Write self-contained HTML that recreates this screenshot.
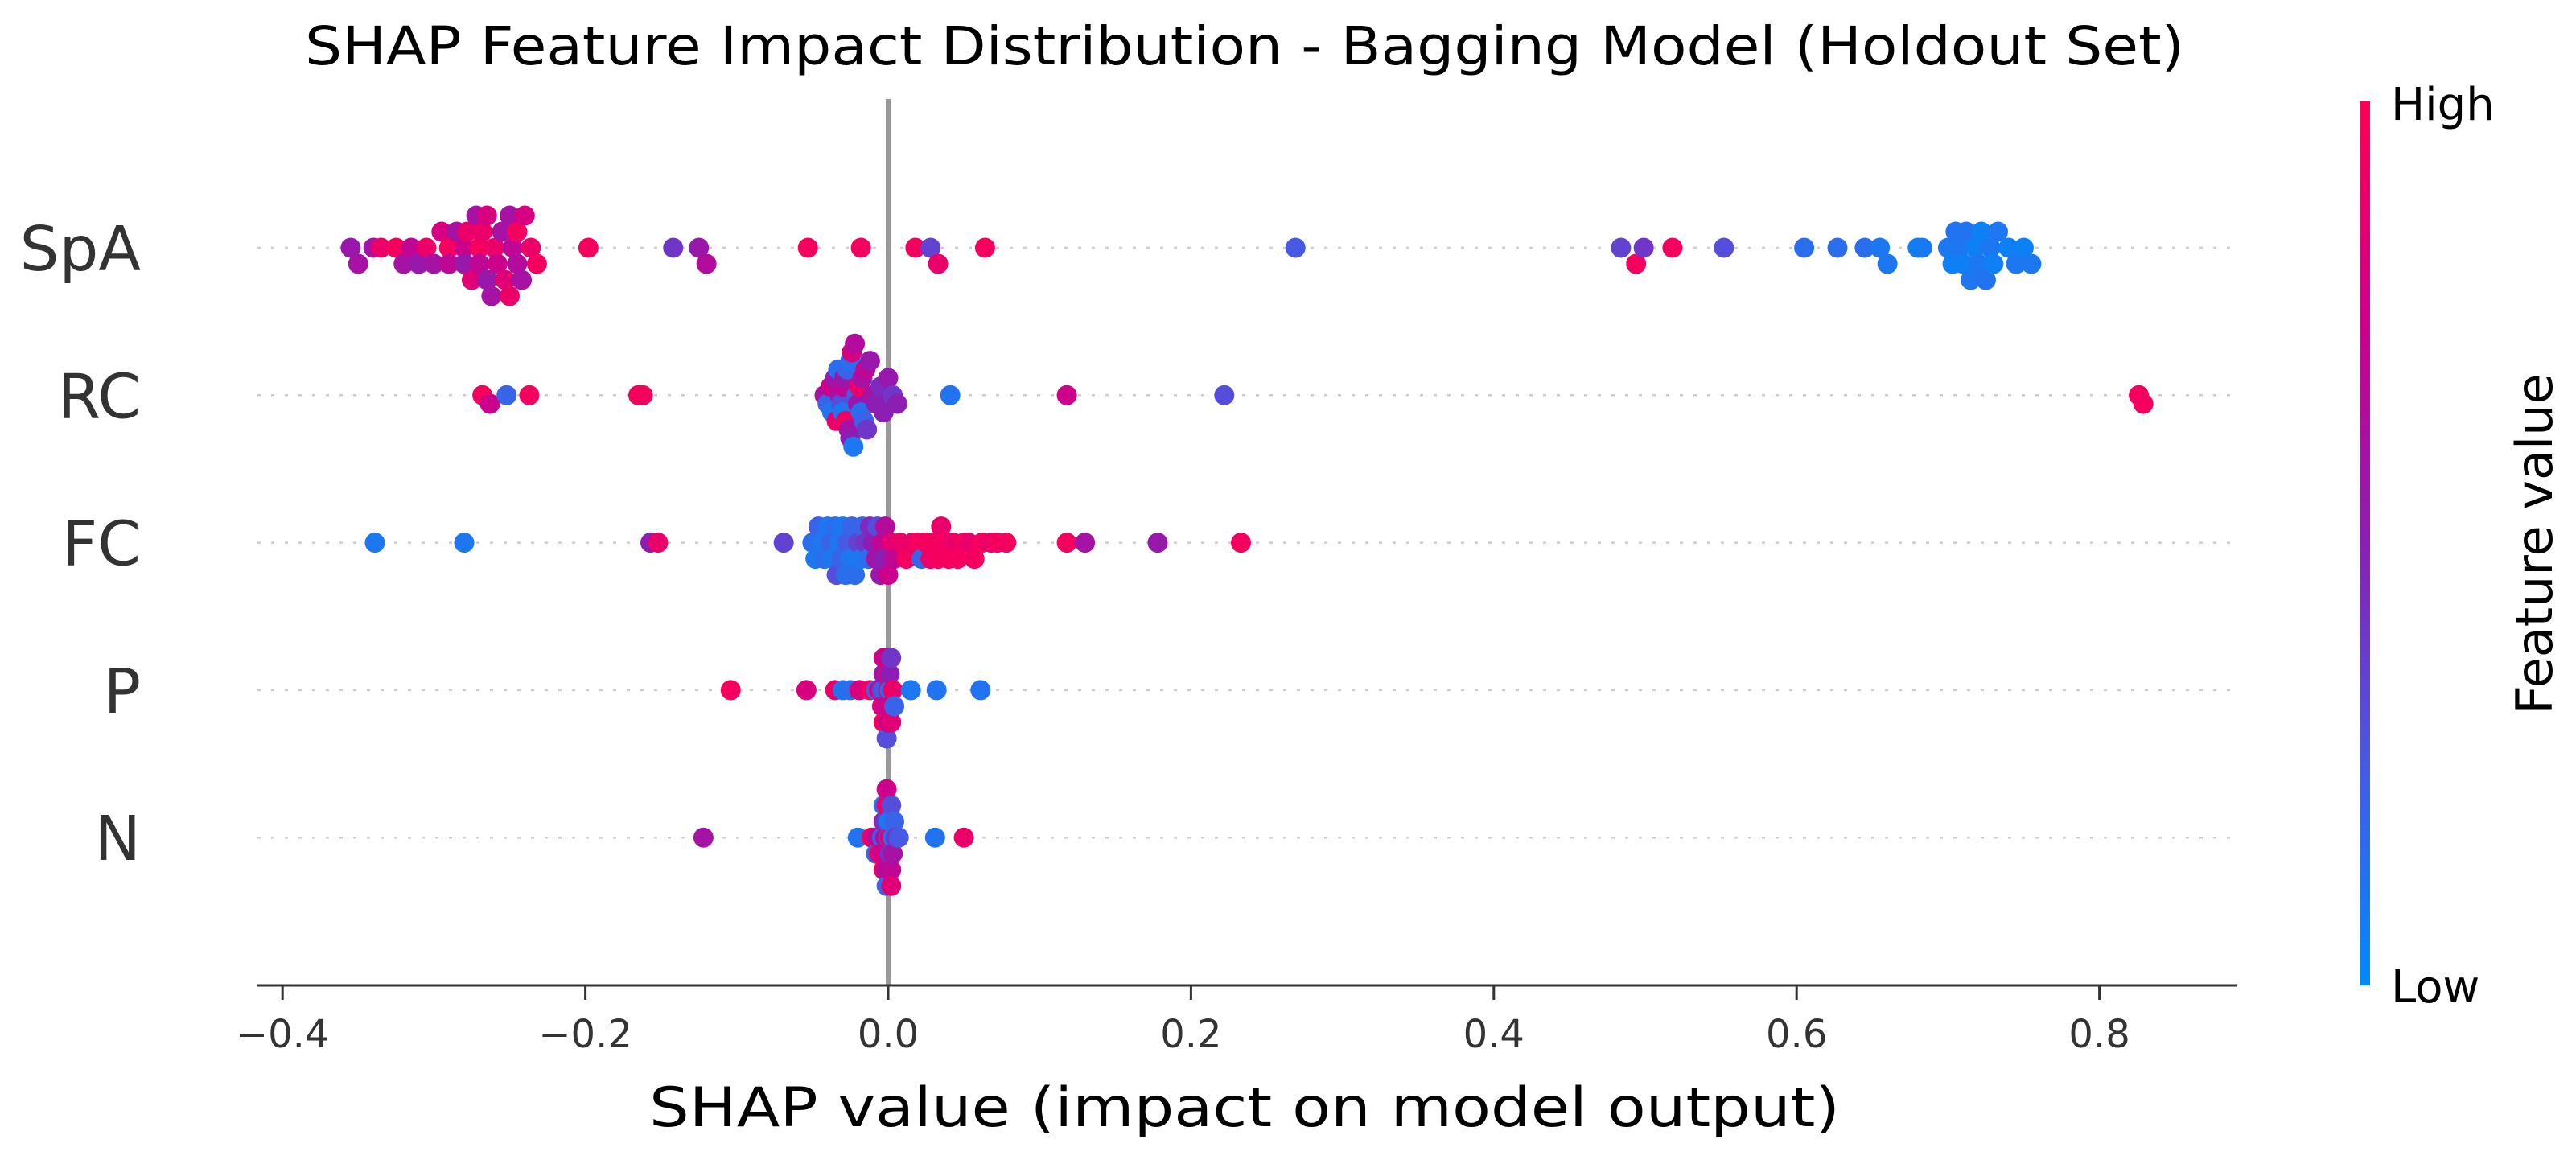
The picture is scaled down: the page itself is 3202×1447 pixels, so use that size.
<!DOCTYPE html>
<html><head><meta charset="utf-8"><style>
html,body{margin:0;padding:0;background:#fff;}
svg{display:block;}
text{font-family:"DejaVu Sans","Liberation Sans",sans-serif;}
</style></head><body>
<svg id="chart" width="3202" height="1447" viewBox="0 0 3202 1447" xmlns="http://www.w3.org/2000/svg">
<defs>
<linearGradient id="cbgrad" x1="0" y1="1" x2="0" y2="0">
<stop offset="0" stop-color="rgb(0,138,250)"/>
<stop offset="0.25" stop-color="rgb(70,90,228)"/>
<stop offset="0.5" stop-color="rgb(140,30,180)"/>
<stop offset="0.75" stop-color="rgb(205,0,140)"/>
<stop offset="1" stop-color="rgb(255,0,82)"/>
</linearGradient>
</defs>
<text x="1547" y="80" font-size="66" text-anchor="middle" textLength="2336" lengthAdjust="spacingAndGlyphs" fill="#000">SHAP Feature Impact Distribution - Bagging Model (Holdout Set)</text>
<g id="grid"></g>
<line x1="1104" y1="123" x2="1104" y2="1225" stroke="#999" stroke-width="6"/>
<g id="dots"></g>
<g id="ylabels"></g>
<line x1="320" y1="1225" x2="2781" y2="1225" stroke="#333" stroke-width="3"/>
<g id="xticks"></g>
<text x="1547" y="1400" font-size="68" text-anchor="middle" textLength="1480" lengthAdjust="spacingAndGlyphs" fill="#000">SHAP value (impact on model output)</text>
<rect x="2934" y="125" width="12" height="1100" fill="url(#cbgrad)"/>
<text x="2972" y="149" font-size="56" fill="#000">High</text>
<text x="2972" y="1246" font-size="56" fill="#000">Low</text>
<text x="3172" y="676" font-size="62" text-anchor="middle" transform="rotate(-90 3172 676)" fill="#000">Feature value</text>
</svg>
<script>
const features = ["SpA","RC","FC","P","N"];
const xTicks = [-0.4,-0.2,0.0,0.2,0.4,0.6,0.8];
const xTickLabels = ["\u22120.4","\u22120.2","0.0","0.2","0.4","0.6","0.8"];
// [shap value, normalized feature value (0=low,1=high)]
const spaPoints = [[-0.355,.55],[-0.35,.6],[-0.34,.6],[-0.335,.9],[-0.325,.95],[-0.32,.6],[-0.315,.7],[-0.31,.55],[-0.305,.9],[-0.30,.6],[-0.295,.8],[-0.29,.95],[-0.29,.7],[-0.285,.6],[-0.28,.75],[-0.28,.55],[-0.278,.9],[-0.275,.85],[-0.272,.6],[-0.27,.95],[-0.27,.7],[-0.268,.9],[-0.265,.55],[-0.265,.8],[-0.262,.6],[-0.26,.9],[-0.258,.75],[-0.255,.6],[-0.253,.85],[-0.25,.6],[-0.25,.9],[-0.248,.7],[-0.245,.65],[-0.245,.95],[-0.242,.6],[-0.24,.8],[-0.236,.9],[-0.232,.95],[-0.198,.95],[-0.142,.4],[-0.125,.55],[-0.12,.65],[-0.053,.95],[-0.018,.95],[0.018,.95],[0.028,.35],[0.033,.9],[0.064,.95],[0.269,.25],[0.484,.35],[0.494,.95],[0.499,.4],[0.518,.95],[0.552,.3],[0.605,.15],[0.627,.15],[0.645,.15],[0.655,.1],[0.66,.1],[0.68,.05],[0.683,.08],[0.70,.1],[0.703,.05],[0.705,.12],[0.708,.1],[0.71,.05],[0.712,.12],[0.715,.1],[0.718,.05],[0.72,.1],[0.722,.05],[0.725,.12],[0.728,.1],[0.73,.05],[0.733,.1],[0.74,.05],[0.745,.1],[0.75,.05],[0.755,.1]];
const rcPoints = [[-0.268,.95],[-0.263,.75],[-0.252,.2],[-0.237,.95],[-0.165,.95],[-0.162,.95],[-0.042,.6],[-0.04,.2],[-0.038,.75],[-0.037,.1],[-0.035,.55],[-0.034,.9],[-0.033,.15],[-0.032,.6],[-0.031,.3],[-0.03,.7],[-0.03,.1],[-0.029,.55],[-0.028,.95],[-0.027,.2],[-0.026,.6],[-0.025,.15],[-0.025,.5],[-0.024,.8],[-0.023,.1],[-0.022,.65],[-0.021,.25],[-0.02,.55],[-0.019,.9],[-0.018,.15],[-0.017,.6],[-0.016,.2],[-0.015,.7],[-0.014,.4],[-0.012,.55],[-0.01,.6],[-0.008,.5],[-0.005,.45],[-0.003,.5],[0.0,.55],[0.003,.4],[0.006,.5],[0.041,.12],[0.118,.75],[0.222,.3],[0.826,.95],[0.829,.95]];
const fcPoints = [[-0.339,.1],[-0.28,.1],[-0.157,.5],[-0.152,.9],[-0.069,.35],[-0.05,.15],[-0.048,.1],[-0.046,.2],[-0.044,.1],[-0.042,.15],[-0.04,.1],[-0.038,.2],[-0.037,.1],[-0.035,.15],[-0.034,.3],[-0.032,.1],[-0.031,.2],[-0.03,.1],[-0.028,.15],[-0.027,.25],[-0.025,.1],[-0.024,.2],[-0.022,.15],[-0.02,.35],[-0.018,.1],[-0.017,.2],[-0.015,.4],[-0.013,.15],[-0.012,.45],[-0.01,.5],[-0.008,.6],[-0.007,.3],[-0.005,.55],[-0.004,.7],[-0.003,.5],[-0.002,.65],[0.0,.75],[0.002,.85],[0.004,.7],[0.008,.9],[0.012,.95],[0.016,.9],[0.02,.95],[0.022,.2],[0.025,.95],[0.028,.9],[0.03,.95],[0.033,.95],[0.035,.9],[0.038,.95],[0.04,.95],[0.043,.9],[0.046,.95],[0.05,.95],[0.053,.9],[0.057,.95],[0.062,.95],[0.068,.9],[0.072,.95],[0.078,.95],[0.118,.95],[0.13,.6],[0.178,.55],[0.233,.95]];
const pPoints = [[-0.104,.95],[-0.054,.8],[-0.035,.9],[-0.030,.12],[-0.025,.15],[-0.019,.8],[-0.012,.95],[-0.008,.2],[-0.006,.7],[-0.005,.85],[-0.004,.3],[-0.004,.8],[-0.003,.6],[-0.003,.95],[-0.003,.75],[-0.002,.2],[-0.002,.8],[-0.002,.55],[-0.001,.9],[-0.001,.75],[-0.001,.3],[0.0,.8],[0.0,.6],[0.0,.95],[0.0,.75],[0.001,.15],[0.001,.8],[0.001,.5],[0.002,.85],[0.002,.4],[0.003,.9],[0.004,.2],[0.015,.1],[0.032,.12],[0.061,.12]];
const nPoints = [[-0.122,.6],[-0.020,.12],[-0.011,.95],[-0.009,.8],[-0.008,.15],[-0.007,.7],[-0.006,.95],[-0.005,.6],[-0.005,.85],[-0.004,.2],[-0.004,.75],[-0.003,.55],[-0.003,.9],[-0.003,.15],[-0.002,.7],[-0.002,.8],[-0.002,.4],[-0.001,.6],[-0.001,.95],[-0.001,.2],[-0.001,.75],[0.0,.35],[0.0,.8],[0.0,.15],[0.0,.65],[0.001,.9],[0.001,.4],[0.001,.1],[0.002,.7],[0.002,.3],[0.002,.85],[0.003,.15],[0.003,.6],[0.004,.2],[0.005,.4],[0.007,.25],[0.031,.12],[0.050,.9]];
const featurePoints = [spaPoints, rcPoints, fcPoints, pPoints, nPoints];

const NS = "http://www.w3.org/2000/svg";
const X0 = 1104, XPER = 1882;
const ROW0 = 308, ROWSTEP = 183.3;
function xScale(v){ return X0 + v * XPER; }
function yRow(i){ return ROW0 + i * ROWSTEP; }
function lerp(a,b,t){ return a+(b-a)*t; }
const cStops = [[0,[0,138,250]],[0.25,[70,90,228]],[0.5,[140,30,180]],[0.75,[205,0,140]],[1,[255,0,82]]];
function colorOf(t){
  for(let k=0;k<cStops.length-1;k++){
    const [a,ca]=cStops[k],[b,cb]=cStops[k+1];
    if(t<=b){const u=(t-a)/(b-a);return `rgb(${Math.round(lerp(ca[0],cb[0],u))},${Math.round(lerp(ca[1],cb[1],u))},${Math.round(lerp(ca[2],cb[2],u))})`;}
  }
  return "rgb(255,0,82)";
}
function mk(tag, attrs){ const e=document.createElementNS(NS,tag); for(const k in attrs) e.setAttribute(k,attrs[k]); return e; }

const grid=document.getElementById('grid'), dots=document.getElementById('dots'), ylab=document.getElementById('ylabels'), xt=document.getElementById('xticks');

features.forEach((f,i)=>{
  const y=yRow(i);
  const gl=mk('line',{x1:320,y1:y,x2:2775,y2:y,stroke:'#cccccc','stroke-width':2.5,'stroke-dasharray':'4 13'});
  
  
  grid.appendChild(gl);
  const t=mk('text',{x:175,y:y+28,'font-size':77,'text-anchor':'end',fill:'#333'});
  t.textContent=f;
  
  
  ylab.appendChild(t);

  const pts=featurePoints[i];
  const vals=pts.map(p=>p[0]);
  const mn=Math.min(...vals), mx=Math.max(...vals);
  const nbins=100;
  const quant=vals.map(v=>Math.round(nbins*(v-mn)/(mx-mn+1e-8)));
  const inds=vals.map((v,k)=>k).sort((a,b)=>(quant[a]-quant[b])||(a-b));
  const ys=new Array(pts.length).fill(0);
  let layer=0,last=-1;
  inds.forEach(k=>{
    if(quant[k]!==last) layer=0;
    ys[k]=Math.ceil(layer/2)*((layer%2)*2-1);
    layer++; last=quant[k];
  });
  const maxAbs=Math.max(1,...ys.map(v=>Math.abs(v)));
  const scale=Math.min(20,64/maxAbs);
  const g=mk('g',{});
  
  
  dots.appendChild(g);
  inds.forEach(k=>{
    const c=mk('circle',{cx:xScale(pts[k][0]),cy:y+ys[k]*scale,r:12.5,fill:colorOf(pts[k][1])});
    
    
    g.appendChild(c);
  });
});

xTicks.forEach((v,j)=>{
  const x=xScale(v);
  const l=mk('line',{x1:x,y1:1225,x2:x,y2:1243,stroke:'#333','stroke-width':3});
  
  
  xt.appendChild(l);
  const t=mk('text',{x:x,y:1302,'font-size':48,'text-anchor':'middle',fill:'#333'});
  t.textContent=xTickLabels[j];
  
  
  xt.appendChild(t);
});
</script>
</body></html>
